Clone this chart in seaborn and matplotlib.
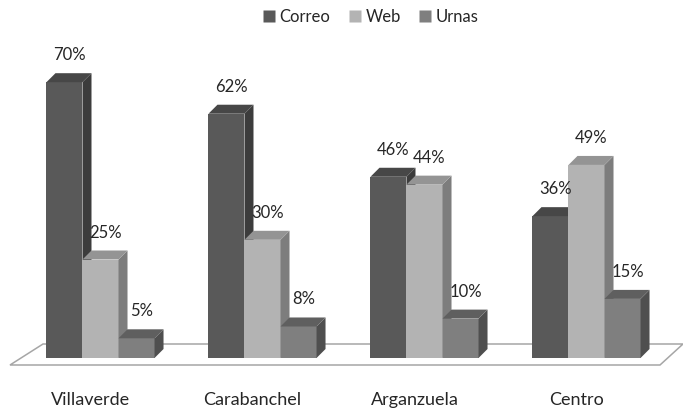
import matplotlib
matplotlib.use("Agg")
import matplotlib.pyplot as plt
import seaborn as sns
import pandas as pd
from matplotlib.patches import Polygon
from matplotlib.lines import Line2D

# ---- data ----
districts = ["Villaverde", "Carabanchel", "Arganzuela", "Centro"]
channels = ["Correo", "Web", "Urnas"]
correo = [70, 62, 46, 36]
web = [25, 30, 44, 49]
urnas = [5, 8, 10, 15]

front_colors = {"Correo": "#595959", "Web": "#b3b3b3", "Urnas": "#7f7f7f"}
side_colors = {"Correo": "#3c3c3c", "Web": "#7d7d7d", "Urnas": "#4f4f4f"}
top_colors = {"Correo": "#474747", "Web": "#949494", "Urnas": "#5f5f5f"}

df = pd.DataFrame({
    "Distrito": districts * 3,
    "Canal": [c for c in channels for _ in districts],
    "Porcentaje": correo + web + urnas,
})

sns.set_theme(style="white")
plt.rcParams["font.family"] = ["Lato", "DejaVu Sans"]

W, H = 683, 408
fig = plt.figure(figsize=(W / 100, H / 100), dpi=100)

PX_PER_PCT = 3.94
PX_PER_CAT = 162.0
base_px = 358          # bar base, pixels from top
x0_px = 100.5          # first category centre, pixels from left
ymin, ymax = -4, 82
ax_bottom_px = base_px + (-ymin) * PX_PER_PCT
ax_h_px = (ymax - ymin) * PX_PER_PCT
ax = fig.add_axes([0, (H - ax_bottom_px) / H, 1, ax_h_px / H])

sns.barplot(data=df, x="Distrito", y="Porcentaje", hue="Canal",
            hue_order=channels, order=districts, palette=front_colors,
            width=0.667, saturation=1, ax=ax, legend=False,
            edgecolor="none", linewidth=0)

ax.set_xlim(-x0_px / PX_PER_CAT, (W - x0_px) / PX_PER_CAT)
ax.set_ylim(ymin, ymax)
ax.axis("off")

def px_x(p):
    return p / PX_PER_CAT

def px_y(p):
    return p / PX_PER_PCT

dx, dy = px_x(9), px_y(9)

# floor
floor = Polygon([(px_x(10 - x0_px), px_y(-7)), (px_x(660 - x0_px), px_y(-7)),
                 (px_x(683 - x0_px), px_y(14)), (px_x(43 - x0_px), px_y(14))],
                closed=True, facecolor="white", edgecolor="#a6a6a6",
                linewidth=1.1, zorder=1, clip_on=False)
ax.add_patch(floor)

for i, (container, ch) in enumerate(zip(ax.containers, channels)):
    z = 2 + i
    for bar in container:
        bx = bar.get_x()
        bw = bar.get_width()
        bh = bar.get_height()
        x1 = bx + bw
        bar.set_zorder(z)
        side = Polygon([(x1, 0), (x1 + dx, dy), (x1 + dx, bh + dy), (x1, bh)],
                       closed=True, facecolor=side_colors[ch], edgecolor="none",
                       zorder=z, clip_on=False)
        top = Polygon([(bx, bh), (bx + dx, bh + dy), (x1 + dx, bh + dy), (x1, bh)],
                      closed=True, facecolor=top_colors[ch], edgecolor="none",
                      zorder=z, clip_on=False)
        ax.add_patch(side)
        ax.add_patch(top)
        ax.text(bx + bw / 2 + px_x(5), bh + px_y(27), f"{bh:.0f}%",
                ha="center", va="center", fontsize=12, color="#262626",
                zorder=10)

for i, name in enumerate(districts):
    ax.text(i - px_x(10), -px_y(42), name, ha="center", va="center",
            fontsize=13, color="#262626", clip_on=False)

handles = [Line2D([0], [0], marker="s", linestyle="none", markersize=8,
                  markerfacecolor=front_colors[c], markeredgecolor="none")
           for c in channels]
fig.legend(handles, channels, loc="center", bbox_to_anchor=(370 / W, 1 - 17 / H),
           ncol=3, frameon=False, fontsize=12, handletextpad=0.2,
           columnspacing=1.0, handlelength=0.9, labelcolor="#262626")

fig.savefig("out.png", dpi=100)
